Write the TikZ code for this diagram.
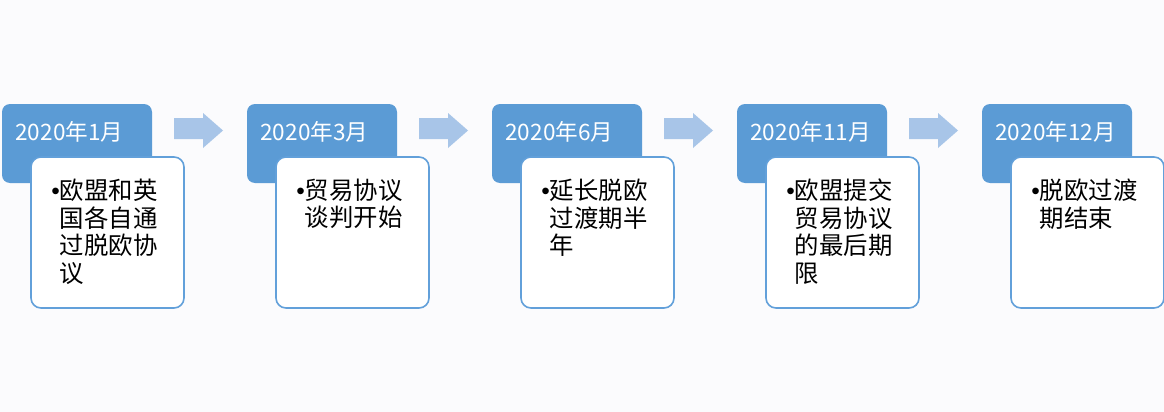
\documentclass[tikz,border=0pt]{standalone}
\usepackage{fontspec}
\setmainfont{Noto Sans CJK SC}
\newfontfamily\bltfont{Liberation Sans}
\usepackage{tikz}
\usepackage{xcolor}

\definecolor{hdrblue}{RGB}{91,155,213}
\definecolor{lineblue}{RGB}{98,160,218}
\definecolor{arrblue}{RGB}{168,197,232}
\definecolor{bgwhite}{RGB}{251,251,253}
\newcommand{\blt}{{\bltfont •}}
\newcommand{\ind}{\hphantom{\blt}}

\begin{document}
\begin{tikzpicture}[x=0.5pt,y=-0.5pt]
		\tikzstyle{hdr}=[fill=hdrblue, rounded corners=4pt, minimum width=75pt, minimum height=39.5pt, inner sep=0pt]
		\tikzstyle{card}=[fill=white, draw=lineblue, line width=0.8pt, rounded corners=5pt, minimum width=76.5pt, minimum height=75.5pt, inner sep=0pt]
		\tikzstyle{hdrtext}=[anchor=west, inner sep=0pt, text=white, font=\fontsize{11.3}{13}\selectfont]
		\tikzstyle{cardtext}=[anchor=north west, inner sep=0pt, align=left, font=\fontsize{12.2}{13.8}\selectfont]
		\tikzstyle{blockarrow}=[fill=arrblue]
		\fill [bgwhite] (0,0) rectangle (1164,412);
		\useasboundingbox (0,0) rectangle (1164,412);
		% headers
		\node [hdr] (h1) at (77,143.5) {};
		\node [hdr] (h2) at (322,143.5) {};
		\node [hdr] (h3) at (567,143.5) {};
		\node [hdr] (h4) at (812,143.5) {};
		\node [hdr] (h5) at (1057,143.5) {};
		\node [hdrtext] (d1) at (15,131.5) {2020年1月};
		\node [hdrtext] (d2) at (260,131.5) {2020年3月};
		\node [hdrtext] (d3) at (505,131.5) {2020年6月};
		\node [hdrtext] (d4) at (750,131.5) {2020年11月};
		\node [hdrtext] (d5) at (995,131.5) {2020年12月};
		% cards
		\node [card] (c1) at (107.5,232.5) {};
		\node [card] (c2) at (352.5,232.5) {};
		\node [card] (c3) at (597.5,232.5) {};
		\node [card] (c4) at (842.5,232.5) {};
		\node [card] (c5) at (1087.5,232.5) {};
		\node [cardtext] (b1) at (51,178.5) {\blt 欧盟和英\\\ind 国各自通\\\ind 过脱欧协\\\ind 议};
		\node [cardtext] (b2) at (296,178.5) {\blt 贸易协议\\\ind 谈判开始};
		\node [cardtext] (b3) at (541,178.5) {\blt 延长脱欧\\\ind 过渡期半\\\ind 年};
		\node [cardtext] (b4) at (786,178.5) {\blt 欧盟提交\\\ind 贸易协议\\\ind 的最后期\\\ind 限};
		\node [cardtext] (b5) at (1031,178.5) {\blt 脱欧过渡\\\ind 期结束};
		% arrows
		\foreach \x in {0,245,490,735}
			\fill [blockarrow] ({174+\x},118) -- ({203+\x},118) -- ({203+\x},113) -- ({223+\x},130.5) -- ({203+\x},148) -- ({203+\x},139) -- ({174+\x},139) -- cycle;
\end{tikzpicture}
\end{document}
